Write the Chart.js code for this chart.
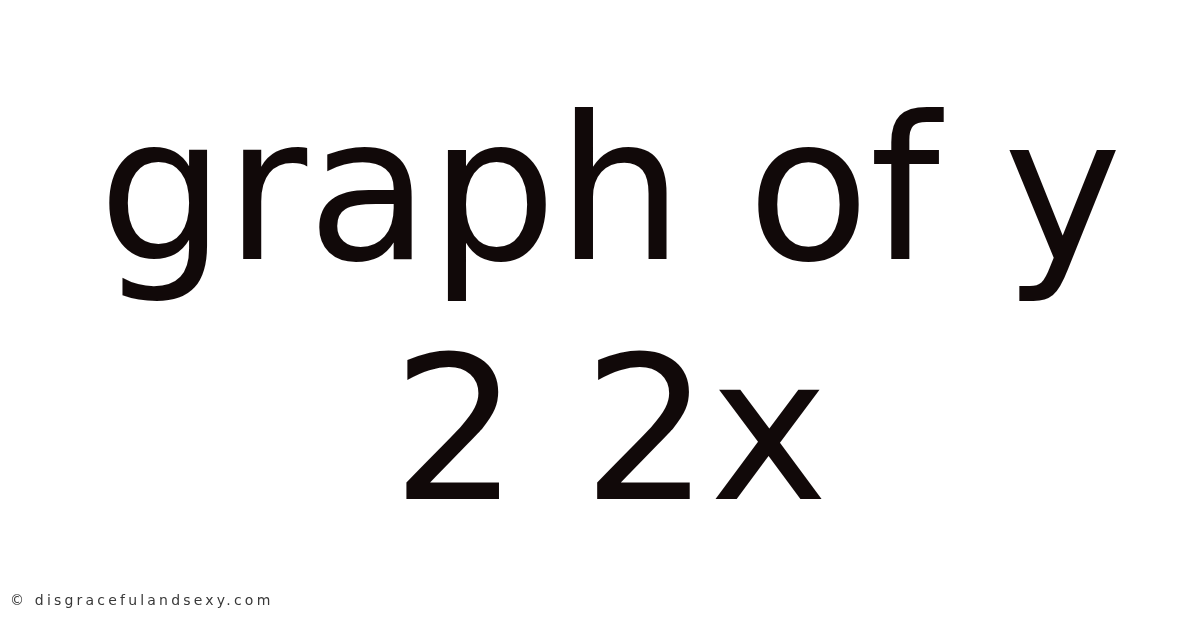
<!DOCTYPE html>
<html lang="en">
<head>
  <meta charset="UTF-8">
  <title>graph of y 2 2x</title>
  <script src="https://cdn.jsdelivr.net/npm/chart.js"></script>
  <style>
    html, body { margin: 0; padding: 0; background: #fff; }
    #wrap { width: 1200px; height: 628px; position: relative; }
  </style>
</head>
<body>
<div id="wrap"><canvas id="card"></canvas></div>
<script>
  // the picture has no plotted series, only its heading and a source line
  const headingLines = ['graph of y', '2 2x'];
  const sourceLine = '\u00a9 disgracefulandsexy.com';
  const categories = [];
  const values = [];

  // source line sits bottom-left in small spaced type
  const sourcePlugin = {
    id: 'sourceLine',
    afterDraw(chart) {
      const c = chart.ctx;
      c.save();
      c.font = '14px "DejaVu Sans"';
      c.letterSpacing = '3.2px';
      c.fillStyle = '#383838';
      c.textAlign = 'left';
      c.textBaseline = 'alphabetic';
      c.fillText(sourceLine, 10, 605);
      c.restore();
    }
  };

  const ctx = document.getElementById('card').getContext('2d');
  new Chart(ctx, {
    type: 'bar',
    data: {
      labels: categories,
      datasets: [{ data: values }]
    },
    options: {
      responsive: true,
      maintainAspectRatio: false,
      animation: false,
      layout: { padding: { left: 20, right: 0, top: 0, bottom: 0 } },
      scales: {
        x: { display: false },
        y: { display: false }
      },
      plugins: {
        legend: { display: false },
        tooltip: { enabled: false },
        title: {
          display: true,
          text: headingLines,
          color: '#110909',
          align: 'center',
          font: { family: 'DejaVu Sans', size: 200, weight: 'normal', lineHeight: 1.2 },
          padding: { top: 87, bottom: 0 }
        }
      }
    },
    plugins: [sourcePlugin]
  });
</script>
</body>
</html>
